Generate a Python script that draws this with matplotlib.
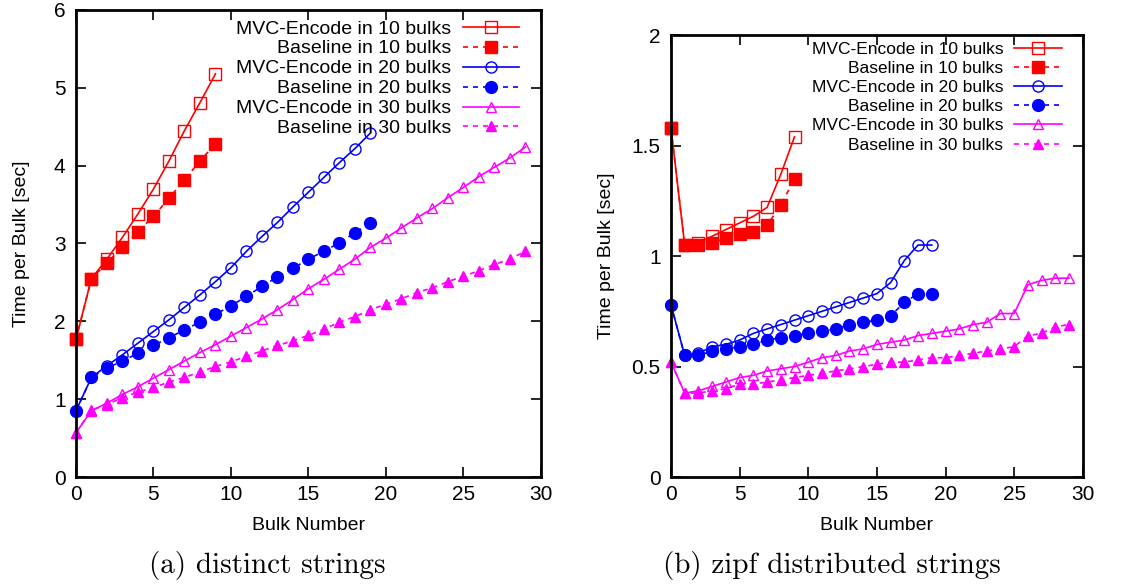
import numpy as np
import matplotlib.pyplot as plt

# (a) distinct strings
mvc10_a = [1.77, 2.55, 2.80, 3.08, 3.38, 3.70, 4.06, 4.45, 4.81, 5.18]
base10_a = [1.77, 2.55, 2.75, 2.95, 3.15, 3.35, 3.58, 3.82, 4.06, 4.28]
mvc20_a = [0.85, 1.28, 1.43, 1.57, 1.72, 1.87, 2.02, 2.18, 2.34, 2.51,
           2.69, 2.90, 3.09, 3.27, 3.47, 3.66, 3.85, 4.04, 4.22, 4.42]
base20_a = [0.85, 1.28, 1.40, 1.49, 1.59, 1.69, 1.79, 1.89, 1.99, 2.09,
            2.20, 2.32, 2.45, 2.57, 2.68, 2.80, 2.90, 3.01, 3.14, 3.26]
mvc30_a = [0.57, 0.85, 0.95, 1.06, 1.16, 1.27, 1.38, 1.49, 1.60, 1.70,
           1.81, 1.92, 2.03, 2.15, 2.28, 2.42, 2.54, 2.67, 2.80, 2.95,
           3.07, 3.20, 3.33, 3.45, 3.59, 3.72, 3.86, 3.98, 4.10, 4.24]
base30_a = [0.57, 0.86, 0.93, 1.02, 1.09, 1.15, 1.22, 1.28, 1.35, 1.42,
            1.48, 1.55, 1.62, 1.69, 1.75, 1.82, 1.90, 1.99, 2.06, 2.15,
            2.22, 2.29, 2.37, 2.43, 2.51, 2.58, 2.65, 2.73, 2.80, 2.90]

# (b) zipf distributed strings
mvc10_b = [1.58, 1.05, 1.06, 1.09, 1.12, 1.15, 1.18, 1.22, 1.37, 1.54]
base10_b = [1.58, 1.05, 1.05, 1.06, 1.08, 1.10, 1.11, 1.14, 1.23, 1.35]
mvc20_b = [0.78, 0.55, 0.56, 0.59, 0.60, 0.62, 0.65, 0.67, 0.69, 0.71,
           0.73, 0.75, 0.77, 0.79, 0.81, 0.83, 0.88, 0.98, 1.05, 1.05]
base20_b = [0.78, 0.55, 0.55, 0.57, 0.58, 0.59, 0.60, 0.62, 0.63, 0.64,
            0.65, 0.66, 0.67, 0.69, 0.70, 0.71, 0.73, 0.79, 0.83, 0.83]
mvc30_b = [0.52, 0.38, 0.39, 0.41, 0.43, 0.45, 0.46, 0.48, 0.49, 0.50,
           0.52, 0.54, 0.55, 0.57, 0.58, 0.60, 0.61, 0.62, 0.64, 0.65,
           0.66, 0.67, 0.69, 0.70, 0.74, 0.74, 0.87, 0.89, 0.90, 0.90]
base30_b = [0.52, 0.38, 0.38, 0.39, 0.40, 0.42, 0.42, 0.43, 0.44, 0.45,
            0.46, 0.47, 0.48, 0.49, 0.50, 0.51, 0.52, 0.52, 0.53, 0.54,
            0.54, 0.55, 0.56, 0.57, 0.58, 0.59, 0.64, 0.65, 0.68, 0.69]

labels = ['MVC-Encode in 10 bulks', 'Baseline in 10 bulks',
          'MVC-Encode in 20 bulks', 'Baseline in 20 bulks',
          'MVC-Encode in 30 bulks', 'Baseline in 30 bulks']
colors = ['#ff0000', '#ff0000', '#0000ff', '#0000ff', '#ff00ff', '#ff00ff']
markers = ['s', 's', 'o', 'o', '^', '^']
filled = [False, True, False, True, False, True]
msizes = [8, 8.5, 8, 8.5, 7.5, 7]

plt.rcParams['font.family'] = ['Liberation Sans', 'DejaVu Sans']

fig = plt.figure(figsize=(11.44, 5.86), dpi=100)
ax1 = fig.add_axes([0.0664, 0.186, 0.4065, 0.797])
ax2 = fig.add_axes([0.5865, 0.186, 0.360, 0.754])


def draw(ax, series, ymax, yticks, ylpad, lfont, hlen, lspace, anchor):
    for i, ys in enumerate(series):
        x = np.arange(len(ys))
        ls = (0, (3, 3)) if filled[i] else '-'
        ax.plot(x, ys, color=colors[i], linestyle=ls, linewidth=1.2,
                marker=markers[i], markersize=msizes[i],
                markerfacecolor=colors[i] if filled[i] else 'none',
                markeredgecolor=colors[i], markeredgewidth=1.0,
                label=labels[i], clip_on=False)
    ax.set_xlim(0, 30)
    ax.set_ylim(0, ymax)
    ax.set_xticks(range(0, 31, 5))
    ax.set_yticks(yticks)
    ax.tick_params(direction='in', length=7, width=1.2, top=True, right=True,
                   labelsize=15)
    ax.tick_params(axis='x', pad=6)
    ax.tick_params(axis='y', pad=7.5)
    for s in ax.spines.values():
        s.set_linewidth(2)
    ax.set_xlabel('Bulk Number', fontsize=14, labelpad=9)
    ax.set_ylabel('Time per Bulk [sec]', fontsize=14, labelpad=ylpad)
    ax.legend(loc='upper right', bbox_to_anchor=anchor, frameon=False,
              markerfirst=False, fontsize=lfont, handlelength=hlen,
              labelspacing=lspace, handletextpad=0.6, borderaxespad=0,
              borderpad=0.2)


draw(ax1, [mvc10_a, base10_a, mvc20_a, base20_a, mvc30_a, base30_a],
     6, range(0, 7), 17, 14, 2.9, 0.12, (0.962, 0.987))
draw(ax2, [mvc10_b, base10_b, mvc20_b, base20_b, mvc30_b, base30_b],
     2, [0, 0.5, 1, 1.5, 2], 12, 12.5, 2.8, 0.23, (0.959, 0.993))
ax2.set_yticklabels(['0', '0.5', '1', '1.5', '2'])

fig.text(0.234, 0.035, '(a) distinct strings', family='cmr10',
         fontsize=21, ha='center', va='center')
fig.text(0.727, 0.035, '(b) zipf distributed strings', family='cmr10',
         fontsize=21, ha='center', va='center')

fig.savefig('out.png', dpi=100)
